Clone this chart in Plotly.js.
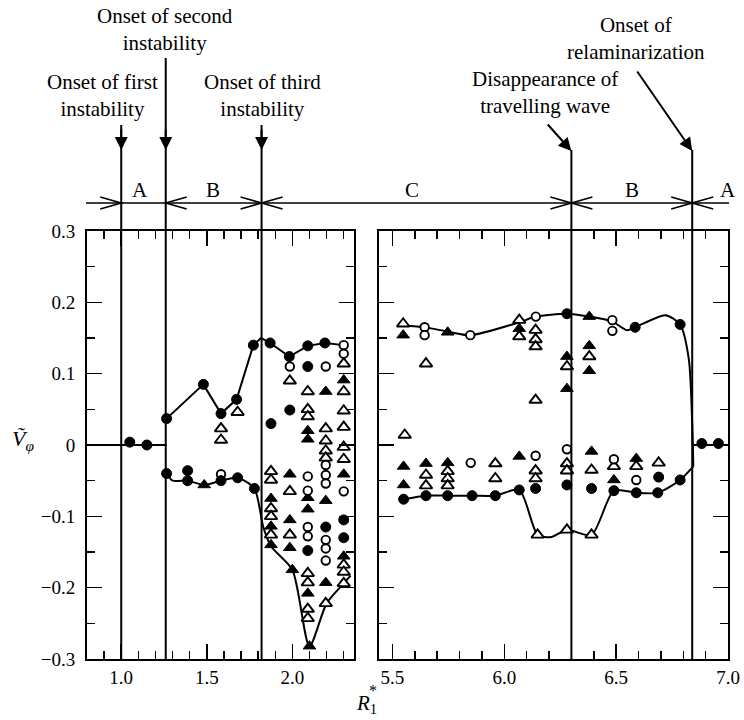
<!DOCTYPE html>
<html>
<head>
<meta charset="utf-8">
<script src="https://cdn.plot.ly/plotly-3.0.1.min.js"></script>
<style>html,body{margin:0;padding:0;background:#fff;}#chart{width:744px;height:720px;}</style>
</head>
<body>
<div id="chart"></div>
<script>
// ---------------- DATA ----------------
// Left panel (R1* from 0.8 to 2.36)
const zeroLineL_x = [0.8, 1.265];
const zeroLineL_y = [0, 0];
const upperCurveL_x = [1.265, 1.48, 1.583, 1.674, 1.772, 1.817, 1.87, 1.982, 2.09, 2.19, 2.30];
const upperCurveL_y = [0.037, 0.085, 0.044, 0.064, 0.140, 0.150, 0.143, 0.124, 0.139, 0.143, 0.140];
const lowerCurveL_x = [1.265, 1.30, 1.388, 1.485, 1.583, 1.68, 1.778, 1.83, 1.875, 2.0, 2.10, 2.20, 2.30, 2.34];
const lowerCurveL_y = [-0.040, -0.050, -0.050, -0.056, -0.050, -0.046, -0.061, -0.115, -0.142, -0.175, -0.282, -0.222, -0.194, -0.183];

const filledCircL_x = [1.05, 1.15, 1.265, 1.48, 1.583, 1.674, 1.772, 1.87, 1.982, 2.09, 2.19,
  1.265, 1.388, 1.388, 1.583, 1.68, 1.778, 1.875, 1.985, 2.09, 2.09, 2.195, 2.30, 2.30];
const filledCircL_y = [0.004, 0.0, 0.037, 0.085, 0.044, 0.064, 0.140, 0.143, 0.124, 0.139, 0.143,
  -0.040, -0.050, -0.036, -0.050, -0.046, -0.061, 0.030, 0.049, 0.110, -0.148, -0.115, -0.105, -0.130];

const openCircL_x = [1.583, 2.30, 2.30, 1.985, 2.195, 2.09, 2.09, 2.09, 2.09,
  2.195, 2.195, 2.195, 2.195, 2.195, 2.195, 2.30];
const openCircL_y = [-0.041, 0.140, 0.128, 0.110, 0.110, -0.044, -0.064, -0.115, -0.128,
  -0.028, -0.042, -0.054, -0.133, -0.145, -0.162, -0.065];

const filledTriL_x = [1.485, 2.0, 2.10, 1.875, 1.875, 1.875, 1.985, 1.985, 1.985,
  2.09, 2.09, 2.09, 2.09, 2.09, 2.195, 2.195, 2.195, 2.30, 2.30, 2.30];
const filledTriL_y = [-0.056, -0.175, -0.282, -0.075, -0.114, -0.140, -0.041, -0.105, -0.144,
  0.020, 0.008, -0.074, -0.090, -0.208, 0.075, -0.078, -0.193, 0.091, -0.041, -0.156];

const openTriL_x = [1.583, 1.583, 1.68,
  1.875, 1.875, 1.875, 1.875, 1.875,
  1.985, 1.985, 1.985,
  2.09, 2.09, 2.09, 2.09, 2.09, 2.09, 2.09,
  2.195, 2.195, 2.195, 2.195, 2.195,
  2.30, 2.30, 2.30, 2.30, 2.30, 2.30, 2.30, 2.30, 2.30];
const openTriL_y = [0.023, 0.007, 0.046,
  -0.037, -0.049, -0.089, -0.100, -0.126,
  0.090, -0.065, -0.126,
  0.075, 0.050, 0.040, -0.180, -0.193, -0.230, -0.243,
  0.023, 0.006, -0.008, -0.018, -0.222,
  0.114, 0.075, 0.048, 0.025, -0.003, -0.020, -0.168, -0.178, -0.194];

// Right panel (R1* from 5.44 to 7.0)
const zeroLineR_x = [6.845, 7.0];
const zeroLineR_y = [0, 0];
const upperCurveR_x = [5.548, 5.644, 5.747, 5.848, 6.067, 6.141, 6.28, 6.38, 6.483, 6.548, 6.585, 6.72, 6.786, 6.825, 6.84, 6.845];
const upperCurveR_y = [0.168, 0.165, 0.159, 0.154, 0.172, 0.180, 0.184, 0.180, 0.173, 0.161, 0.165, 0.182, 0.169, 0.12, 0.03, -0.03];
const lowerCurveR_x = [5.55, 5.65, 5.747, 5.856, 5.96, 6.067, 6.149, 6.21, 6.28, 6.39, 6.49, 6.59, 6.686, 6.786, 6.845];
const lowerCurveR_y = [-0.076, -0.071, -0.071, -0.071, -0.071, -0.063, -0.126, -0.129, -0.119, -0.126, -0.064, -0.067, -0.067, -0.049, -0.03];

const filledCircR_x = [5.55, 5.65, 5.747, 5.856, 5.96, 6.067, 6.49, 6.59, 6.686, 6.786,
  6.28, 6.585, 6.786, 6.883, 6.957, 6.14, 6.28, 6.39, 6.69];
const filledCircR_y = [-0.076, -0.071, -0.071, -0.071, -0.071, -0.063, -0.064, -0.067, -0.067, -0.049,
  0.184, 0.165, 0.169, 0.002, 0.002, -0.061, -0.056, -0.061, -0.045];

const openCircR_x = [5.644, 5.644, 5.848, 6.141, 6.483, 6.483, 5.85, 6.14, 6.28, 6.49, 6.59];
const openCircR_y = [0.165, 0.154, 0.154, 0.180, 0.175, 0.160, -0.025, -0.015, -0.006, -0.020, -0.049];

const filledTriR_x = [5.548, 5.747, 6.067, 6.28, 6.28, 6.38, 6.38, 6.38,
  5.55, 5.55, 5.65, 5.747, 6.067, 6.39, 6.49, 6.59];
const filledTriR_y = [0.154, 0.158, 0.163, 0.124, 0.079, 0.180, 0.139, 0.104,
  -0.030, -0.056, -0.026, -0.025, -0.016, -0.009, -0.049, -0.019];

const openTriR_x = [5.548, 5.65, 6.067, 6.067, 6.14, 6.14, 6.14, 6.14, 6.28, 6.38,
  5.555, 5.65, 5.65, 5.747, 5.747, 5.747, 5.96, 5.96, 6.14, 6.14, 6.28, 6.28, 6.39, 6.49, 6.59, 6.69,
  6.149, 6.28, 6.39];
const openTriR_y = [0.170, 0.114, 0.175, 0.152, 0.161, 0.148, 0.138, 0.063, 0.110, 0.124,
  0.014, -0.042, -0.057, -0.037, -0.047, -0.057, -0.026, -0.047, -0.036, -0.047, -0.026, -0.036, -0.035, -0.030, -0.030, -0.025,
  -0.126, -0.119, -0.126];

// Transition lines (R1* values)
const onsetLeft = [1.0, 1.26, 1.82];
const onsetRight = [6.30, 6.84];
const regionLabels = ['A', 'B', 'C', 'B', 'A'];

// ---------------- STYLE ----------------
const FONT = "'Liberation Serif', 'Times New Roman', serif";
const BLACK = '#000';

function curve(x, y, xa, ya, shape) {
  return {x: x, y: y, xaxis: xa, yaxis: ya, mode: 'lines', type: 'scatter',
    line: {color: BLACK, width: 2, shape: shape || 'spline', smoothing: 0.7}, hoverinfo: 'skip', showlegend: false};
}
function pts(x, y, xa, ya, sym, fill, size, lw) {
  return {x: x, y: y, xaxis: xa, yaxis: ya, mode: 'markers', type: 'scatter', showlegend: false,
    marker: {symbol: sym, size: size, color: fill, line: {color: BLACK, width: lw}}, hoverinfo: 'skip'};
}

const traces = [
  curve(zeroLineL_x, zeroLineL_y, 'x', 'y', 'linear'),
  curve(upperCurveL_x, upperCurveL_y, 'x', 'y', 'linear'),
  curve(lowerCurveL_x, lowerCurveL_y, 'x', 'y'),
  curve(zeroLineR_x, zeroLineR_y, 'x2', 'y2', 'linear'),
  curve(upperCurveR_x, upperCurveR_y, 'x2', 'y2'),
  curve(lowerCurveR_x, lowerCurveR_y, 'x2', 'y2'),
  pts(openTriL_x, openTriL_y, 'x', 'y', 'triangle-up', '#fff', 11, 1.9),
  pts(filledTriL_x, filledTriL_y, 'x', 'y', 'triangle-up', BLACK, 11, 1),
  pts(openCircL_x, openCircL_y, 'x', 'y', 'circle', '#fff', 8.5, 1.9),
  pts(filledCircL_x, filledCircL_y, 'x', 'y', 'circle', BLACK, 10, 1),
  pts(openTriR_x, openTriR_y, 'x2', 'y2', 'triangle-up', '#fff', 11, 1.9),
  pts(filledTriR_x, filledTriR_y, 'x2', 'y2', 'triangle-up', BLACK, 11, 1),
  pts(openCircR_x, openCircR_y, 'x2', 'y2', 'circle', '#fff', 8.5, 1.9),
  pts(filledCircR_x, filledCircR_y, 'x2', 'y2', 'circle', BLACK, 10, 1)
];

// Figure geometry (pixels in a 744x720 figure)
const W = 744, H = 720;
const plotTop = 231, plotBot = 659;
const lineY = 203;
const px = v => v / W, py = v => 1 - v / H;

function xAxis(range, domain, anchor) {
  return {range: range, domain: domain, anchor: anchor, dtick: 0.5, tick0: 0, tickformat: '.1f',
    ticks: 'inside', ticklen: 15, tickwidth: 1.5, tickcolor: BLACK,
    minor: {dtick: 0.1, tick0: 0, ticks: 'inside', ticklen: 8, tickwidth: 1.5, tickcolor: BLACK},
    showline: true, linewidth: 2, linecolor: BLACK, mirror: 'ticks',
    showgrid: false, zeroline: false, fixedrange: true,
    tickfont: {family: FONT, size: 19, color: BLACK}};
}
function yAxis(domain, anchor, labels) {
  return {range: [-0.3, 0.3], domain: domain, anchor: anchor, dtick: 0.1, tick0: 0,
    ticks: 'inside', ticklen: 15, tickwidth: 1.5, tickcolor: BLACK,
    minor: {dtick: 0.05, tick0: 0, ticks: 'inside', ticklen: 8, tickwidth: 1.5, tickcolor: BLACK},
    showline: true, linewidth: 2, linecolor: BLACK, mirror: 'ticks',
    showgrid: false, zeroline: false, fixedrange: true, showticklabels: labels,
    ticklabelstandoff: 6,
    tickfont: {family: FONT, size: 19, color: BLACK}};
}
const yDom = [py(plotBot), py(plotTop)];
const domFrac = p => (plotBot - p) / (plotBot - plotTop);

const shapes = [];
const annotations = [];
// horizontal regime line
shapes.push({type: 'line', xref: 'paper', yref: 'paper', x0: px(86), x1: px(729), y0: py(lineY), y1: py(lineY),
  line: {color: BLACK, width: 1.5}});
// vertical transition lines (tops in pixels)
const lineTopsL = [125, 58, 125];
const lineTopsR = [150, 150];
onsetLeft.forEach((v, i) => shapes.push({type: 'line', xref: 'x', yref: 'y domain', x0: v, x1: v,
  y0: 0, y1: domFrac(lineTopsL[i]), line: {color: BLACK, width: 2}}));
onsetRight.forEach((v, i) => shapes.push({type: 'line', xref: 'x2', yref: 'y2 domain', x0: v, x1: v,
  y0: 0, y1: domFrac(lineTopsR[i]), line: {color: BLACK, width: 2}}));
// chevrons on the regime line
function chevron(xref, v, dir) {
  const a = 21 * dir, b = 6;
  shapes.push({type: 'path', xref: xref, xsizemode: 'pixel', xanchor: v, yref: 'paper', ysizemode: 'pixel',
    yanchor: py(lineY), path: `M${a},${b} L0,0 L${a},${-b}`, line: {color: BLACK, width: 1.6}});
}
chevron('x', onsetLeft[0], -1);
chevron('x', onsetLeft[1], 1);
chevron('x', onsetLeft[2], -1); chevron('x', onsetLeft[2], 1);
chevron('x2', onsetRight[0], -1); chevron('x2', onsetRight[0], 1);
chevron('x2', onsetRight[1], -1); chevron('x2', onsetRight[1], 1);

// arrowheads
onsetLeft.forEach(v => annotations.push({x: v, xref: 'x', y: domFrac(150), yref: 'y domain', text: '',
  showarrow: true, ax: 0, ay: -22, arrowhead: 2, arrowsize: 1.3, arrowwidth: 2, arrowcolor: BLACK}));
annotations.push({x: onsetRight[0], xref: 'x2', y: domFrac(151), yref: 'y2 domain', text: '',
  showarrow: true, ax: -25, ay: -28, arrowhead: 2, arrowsize: 1.3, arrowwidth: 2, arrowcolor: BLACK});
annotations.push({x: onsetRight[1], xref: 'x2', y: domFrac(151), yref: 'y2 domain', text: '',
  showarrow: true, ax: -56, ay: -81, arrowhead: 2, arrowsize: 1.3, arrowwidth: 2, arrowcolor: BLACK});

// text labels
function label(text, x, y, size) {
  annotations.push({text: text, x: px(x), y: py(y), xref: 'paper', yref: 'paper', showarrow: false,
    xanchor: 'center', yanchor: 'middle', font: {family: FONT, size: size || 21, color: BLACK}});
}
label('Onset of first<br>instability', 103, 96);
label('Onset of second<br>instability', 165, 30);
label('Onset of third<br>instability', 262, 96);
label('Disappearance of<br>travelling wave', 545, 93);
label('Onset of<br>relaminarization', 636, 38);
const regionPx = [140, 213, 412, 632, 728];
regionLabels.forEach((t, i) => label(t, regionPx[i], 190));
// axis titles
annotations.push({text: '<i>V\u0303</i><sub><i>\u03c6</i></sub>', x: px(36), y: py(440), xref: 'paper', yref: 'paper',
  showarrow: false, xanchor: 'right', yanchor: 'middle', font: {family: FONT, size: 22, color: BLACK}});
annotations.push({text: '<i>R</i><sub>1</sub>', x: px(366), y: py(704), xref: 'paper', yref: 'paper',
  showarrow: false, xanchor: 'center', yanchor: 'middle', font: {family: FONT, size: 21, color: BLACK}});
annotations.push({text: '*', x: px(373), y: py(690), xref: 'paper', yref: 'paper',
  showarrow: false, xanchor: 'center', yanchor: 'middle', font: {family: FONT, size: 16, color: BLACK}});

const layout = {
  width: W, height: H,
  margin: {l: 0, r: 0, t: 0, b: 0},
  paper_bgcolor: '#fff', plot_bgcolor: '#fff',
  showlegend: false,
  xaxis: xAxis([0.8, 2.36], [px(87), px(354)], 'y'),
  yaxis: yAxis(yDom, 'x', true),
  xaxis2: xAxis([5.44, 7.0], [px(379), px(728)], 'y2'),
  yaxis2: yAxis(yDom, 'x2', false),
  shapes: shapes,
  annotations: annotations
};

Plotly.newPlot('chart', traces, layout, {displayModeBar: false, staticPlot: true});
</script>
</body>
</html>
